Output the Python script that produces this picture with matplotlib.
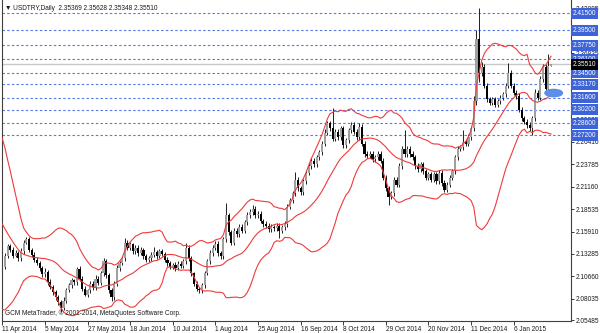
import numpy as np
import pandas as pd
import matplotlib
matplotlib.use('Agg')
import matplotlib.pyplot as plt
from matplotlib import font_manager
from matplotlib.patches import Ellipse
from matplotlib.transforms import blended_transform_factory

# closes before the visible window (only feed the bands)
pre_close = [2.245, 2.250, 2.238, 2.232, 2.225, 2.212, 2.205, 2.190, 2.170, 2.160,
             2.150, 2.138, 2.128, 2.126, 2.118, 2.112, 2.120, 2.110, 2.112]

close = [2.118, 2.130, 2.142, 2.138, 2.131, 2.134, 2.128, 2.136, 2.146, 2.150,
         2.138, 2.132, 2.126, 2.122, 2.116, 2.109, 2.112, 2.100, 2.094, 2.088,
         2.082, 2.076, 2.070, 2.078, 2.090, 2.096, 2.102, 2.100, 2.115, 2.104,
         2.092, 2.085, 2.090, 2.098, 2.094, 2.104, 2.099, 2.110, 2.124, 2.108,
         2.090, 2.082, 2.098, 2.116, 2.122, 2.128, 2.146, 2.140, 2.144, 2.136,
         2.140, 2.134, 2.138, 2.130, 2.126, 2.128, 2.132, 2.135, 2.130, 2.136,
         2.133, 2.126, 2.122, 2.118, 2.120, 2.116, 2.121, 2.119, 2.124, 2.140,
         2.128, 2.110, 2.098, 2.092, 2.090, 2.096, 2.110, 2.124, 2.134, 2.140,
         2.145, 2.134, 2.130, 2.150, 2.178, 2.158, 2.146, 2.160, 2.156, 2.165,
         2.160, 2.170, 2.178, 2.182, 2.186, 2.178, 2.180, 2.172, 2.168, 2.166,
         2.162, 2.165, 2.163, 2.166, 2.160, 2.164, 2.168, 2.188, 2.196, 2.204,
         2.220, 2.210, 2.205, 2.218, 2.228, 2.236, 2.242, 2.238, 2.246, 2.252,
         2.262, 2.275, 2.286, 2.280, 2.268, 2.276, 2.270, 2.280, 2.260, 2.266,
         2.278, 2.284, 2.276, 2.270, 2.282, 2.262, 2.250, 2.248, 2.250, 2.244,
         2.246, 2.250, 2.242, 2.222, 2.210, 2.200, 2.204, 2.220, 2.214, 2.236,
         2.256, 2.250, 2.256, 2.250, 2.246, 2.236, 2.232, 2.238, 2.230, 2.222,
         2.226, 2.220, 2.226, 2.218, 2.228, 2.216, 2.208, 2.214, 2.222, 2.230,
         2.246, 2.256, 2.258, 2.264, 2.262, 2.270, 2.280, 2.312, 2.385, 2.345,
         2.352, 2.330, 2.314, 2.310, 2.314, 2.308, 2.312, 2.316, 2.320, 2.330,
         2.345, 2.330, 2.322, 2.318, 2.302, 2.292, 2.288, 2.284, 2.280, 2.292,
         2.322, 2.316, 2.338, 2.352, 2.326, 2.3537, 2.3551]

# wick lengths above / below the body, in 0.001
upper_wick = [3, 4, 3, 2, 3, 3, 2, 4, 3, 3,
              3, 2, 3, 3, 2, 3, 4, 2, 3, 3,
              2, 3, 3, 4, 3, 3, 3, 2, 3, 4,
              3, 3, 2, 3, 3, 4, 3, 3, 4, 3,
              3, 3, 3, 4, 3, 3, 6, 3, 3, 2,
              3, 3, 3, 2, 3, 3, 3, 6, 3, 3,
              3, 2, 3, 3, 2, 3, 3, 3, 3, 6,
              3, 3, 2, 3, 2, 3, 3, 3, 3, 3,
              3, 3, 2, 3, 14, 3, 3, 3, 3, 3,
              3, 3, 4, 3, 4, 3, 3, 3, 2, 3,
              3, 3, 2, 3, 3, 3, 3, 3, 3, 3,
              9, 3, 3, 3, 3, 3, 3, 3, 3, 3,
              3, 4, 3, 3, 24, 3, 3, 3, 3, 3,
              3, 3, 3, 3, 4, 3, 3, 3, 3, 3,
              3, 3, 3, 3, 3, 3, 3, 3, 3, 3,
              3, 22, 3, 3, 3, 3, 3, 3, 3, 3,
              3, 3, 3, 3, 3, 3, 3, 3, 3, 3,
              3, 3, 3, 14, 3, 3, 3, 6, 11, 36,
              6, 3, 3, 3, 3, 3, 3, 3, 3, 3,
              12, 3, 3, 3, 3, 3, 3, 3, 3, 3,
              4, 3, 3, 3, 3, 14, 1]
lower_wick = [3, 3, 2, 3, 3, 2, 3, 3, 3, 2,
              3, 3, 3, 2, 3, 3, 3, 3, 2, 3,
              3, 3, 5, 3, 3, 2, 3, 3, 3, 3,
              3, 2, 3, 3, 3, 3, 2, 3, 3, 3,
              3, 4, 3, 3, 3, 2, 3, 3, 3, 3,
              3, 3, 2, 3, 3, 3, 3, 3, 3, 2,
              3, 3, 3, 3, 3, 3, 2, 3, 3, 3,
              3, 3, 3, 3, 3, 3, 3, 2, 3, 3,
              3, 3, 3, 3, 3, 3, 3, 3, 3, 3,
              3, 3, 3, 3, 3, 3, 3, 3, 3, 3,
              3, 3, 3, 3, 8, 3, 3, 3, 3, 3,
              3, 3, 3, 3, 3, 3, 3, 3, 3, 3,
              3, 3, 3, 3, 3, 3, 3, 3, 3, 3,
              3, 3, 3, 3, 3, 3, 3, 3, 3, 3,
              3, 3, 3, 3, 3, 10, 3, 3, 3, 3,
              3, 3, 3, 3, 3, 3, 3, 3, 3, 3,
              3, 3, 3, 3, 3, 3, 3, 3, 3, 3,
              3, 3, 3, 3, 3, 3, 3, 3, 5, 10,
              3, 3, 3, 3, 3, 3, 3, 3, 3, 3,
              3, 3, 3, 3, 3, 3, 3, 3, 3, 8,
              3, 3, 3, 3, 3, 3, 0]

last_open = 2.35369
date_labels = ['11 Apr 2014', '5 May 2014', '27 May 2014', '18 Jun 2014', '10 Jul 2014',
               '1 Aug 2014', '25 Aug 2014', '16 Sep 2014', '8 Oct 2014', '29 Oct 2014',
               '20 Nov 2014', '11 Dec 2014', '6 Jan 2015']
level_prices = [2.415, 2.395, 2.3775, 2.361, 2.345, 2.3317, 2.316, 2.302, 2.286, 2.272]
level_labels = ['2.41500', '2.39500', '2.37750', '2.36100', '2.34500',
                '2.33170', '2.31600', '2.30200', '2.28600', '2.27200']
# scale labels that are not fully hidden behind the level boxes
scale_ticks = [2.05485, 2.08035, 2.10660, 2.13285, 2.15910, 2.18535, 2.21160, 2.23785,
               2.26410, 2.29035, 2.36835, 2.42085]
bid = 2.35510

# narrow font like the terminal's
names = {f.name for f in font_manager.fontManager.ttflist}
fam = 'Liberation Sans Narrow' if 'Liberation Sans Narrow' in names else 'Liberation Sans'
plt.rcParams['font.family'] = [fam, 'DejaVu Sans']
fs = 5.6 if fam == 'Liberation Sans Narrow' else 4.7
txt = '#1a1a1a'

# build OHLC
close = np.array(close)
n = len(close)
opens = np.concatenate([[pre_close[-1]], close[:-1]])
opens[-1] = last_open
highs = np.maximum(opens, close) + np.array(upper_wick) * 0.001
lows = np.minimum(opens, close) - np.array(lower_wick) * 0.001
x = np.arange(n)

# bollinger bands (20, 2)
allc = pd.Series(list(pre_close) + list(close))
mid = allc.rolling(20).mean().values[len(pre_close):]
sd = allc.rolling(20).std(ddof=0).values[len(pre_close):]

fig = plt.figure(figsize=(6, 3.33), dpi=100)
ax = fig.add_axes([1.5 / 600, 12.5 / 333, 569.5 / 600, 320.5 / 333])
ax.set_xlim(-0.3, 213.5)
ax.set_ylim(2.0548, 2.4306)

blue = '#3d63d8'
for p in level_prices:
    ax.axhline(p, color='#5a78e6', lw=0.8, ls=(0, (2.2, 2)), zorder=1)
ax.axhline(bid, color='#c8c8c8', lw=1.0, zorder=1)

ax.plot(x, mid + 2 * sd, color='#f03a3a', lw=0.8, zorder=3)
ax.plot(x, mid, color='#f03a3a', lw=0.8, zorder=3)
ax.plot(x, mid - 2 * sd, color='#f03a3a', lw=0.8, zorder=3)

up = close >= opens
ax.vlines(x, lows, highs, color='#202020', lw=0.7, zorder=2)
body = np.maximum(np.abs(close - opens), 0.0008)
ax.bar(x[up], body[up], bottom=opens[up], width=0.8, color='#a0a0a0', zorder=2)
ax.bar(x[~up], body[~up], bottom=close[~up], width=0.8, color='#000000', zorder=2)

ax.add_patch(Ellipse((207, 2.3215), 6.6, 0.0085, color='#5b8ee6', zorder=4))

for s in ['left', 'right', 'bottom']:
    ax.spines[s].set_color('#404040')
    ax.spines[s].set_linewidth(0.8)
ax.spines['top'].set_visible(False)

ax.yaxis.tick_right()
ax.set_yticks(scale_ticks)
ax.set_yticklabels(['%.5f' % t for t in scale_ticks])
ax.tick_params(axis='y', length=2, width=0.6, pad=1.5, labelsize=fs, colors=txt)
ax.set_xticks(np.arange(0, 16 * len(date_labels), 16))
ax.set_xticklabels(date_labels)
ax.tick_params(axis='x', length=3, width=0.6, pad=1, labelsize=fs, colors=txt)
for lbl in ax.get_xticklabels():
    lbl.set_ha('left')

tr = blended_transform_factory(ax.transAxes, ax.transData)
for p, t in zip(level_prices, level_labels):
    ax.text(1.0035, p, t, transform=tr, fontsize=fs, color='white', va='center', ha='left',
            bbox=dict(boxstyle='square,pad=0.3', fc=blue, ec='none'), clip_on=False, zorder=5)
ax.text(1.0035, bid, '2.35510', transform=tr, fontsize=fs, color='white', va='center', ha='left',
        bbox=dict(boxstyle='square,pad=0.3', fc='black', ec='none'), clip_on=False, zorder=6)

ax.text(0.006, 0.985, '\u25bc USDTRY,Daily  2.35369 2.35628 2.35348 2.35510', transform=ax.transAxes,
        fontsize=fs, color=txt, va='top', ha='left')
ax.text(0.006, 0.012, 'GCM MetaTrader, \u00a9 2001-2014, MetaQuotes Software Corp.', transform=ax.transAxes,
        fontsize=fs, color=txt, va='bottom', ha='left')

fig.savefig('out.png', dpi=100)
